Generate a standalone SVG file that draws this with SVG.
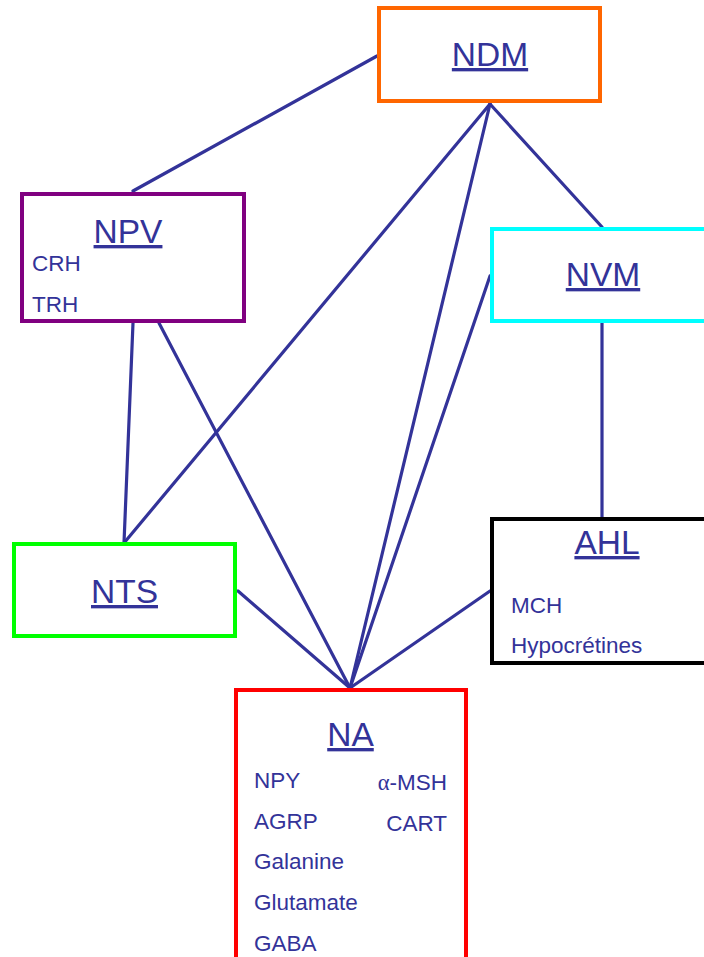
<svg xmlns="http://www.w3.org/2000/svg" width="704" height="957" viewBox="0 0 704 957">
<style>
.box{fill:#fff;stroke-width:4}
.t{font-family:"Liberation Sans",Arial,sans-serif;fill:#333399;text-decoration:underline;font-size:33.5px;text-anchor:middle}
.s{font-family:"Liberation Sans",Arial,sans-serif;fill:#333399;font-size:22.5px}
.c line{stroke:#333399;stroke-width:3.2;stroke-linecap:round}
</style>
<rect width="704" height="957" fill="#fff"/>
<g class="c" id="connectors">
<line x1="377" y1="56" x2="133" y2="191"/>
<line x1="490" y1="104" x2="124" y2="543"/>
<line x1="490" y1="104" x2="350" y2="688"/>
<line x1="490" y1="104" x2="602" y2="227"/>
<line x1="490" y1="276" x2="350" y2="688"/>
<line x1="133" y1="323" x2="124" y2="543"/>
<line x1="159" y1="323" x2="350" y2="688"/>
<line x1="602" y1="323" x2="602" y2="518"/>
<line x1="238" y1="591" x2="350" y2="688"/>
<line x1="490" y1="591" x2="350" y2="688"/>
</g>
<g id="NDM">
<rect class="box" x="379" y="8" width="221" height="93" stroke="#ff6600"/>
<text class="t" x="490" y="66">NDM</text>
</g>
<g id="NPV">
<rect class="box" x="22" y="194" width="222" height="127" stroke="#800080"/>
<text class="t" x="128" y="243">NPV</text>
<text class="s" x="32" y="271">CRH</text>
<text class="s" x="32" y="312">TRH</text>
</g>
<g id="NVM">
<rect class="box" x="492" y="229" width="222" height="92" stroke="#00ffff"/>
<text class="t" x="603" y="286">NVM</text>
</g>
<g id="NTS">
<rect class="box" x="14" y="544" width="221" height="92" stroke="#00ff00"/>
<text class="t" x="124.5" y="603">NTS</text>
</g>
<g id="AHL">
<rect class="box" x="492" y="519" width="222" height="144" stroke="#000000"/>
<text class="t" x="607" y="554">AHL</text>
<text class="s" x="511" y="613">MCH</text>
<text class="s" x="511" y="653">Hypocrétines</text>
</g>
<g id="NA">
<rect class="box" x="236" y="690" width="230" height="290" stroke="#ff0000"/>
<text class="t" x="350.5" y="746">NA</text>
<text class="s" x="254" y="788">NPY</text>
<text class="s" x="447" y="790" text-anchor="end"><tspan font-family="Liberation Serif,serif">α</tspan>-MSH</text>
<text class="s" x="254" y="829">AGRP</text>
<text class="s" x="447" y="831" text-anchor="end">CART</text>
<text class="s" x="254" y="869">Galanine</text>
<text class="s" x="254" y="910">Glutamate</text>
<text class="s" x="254" y="951">GABA</text>
</g>
</svg>
